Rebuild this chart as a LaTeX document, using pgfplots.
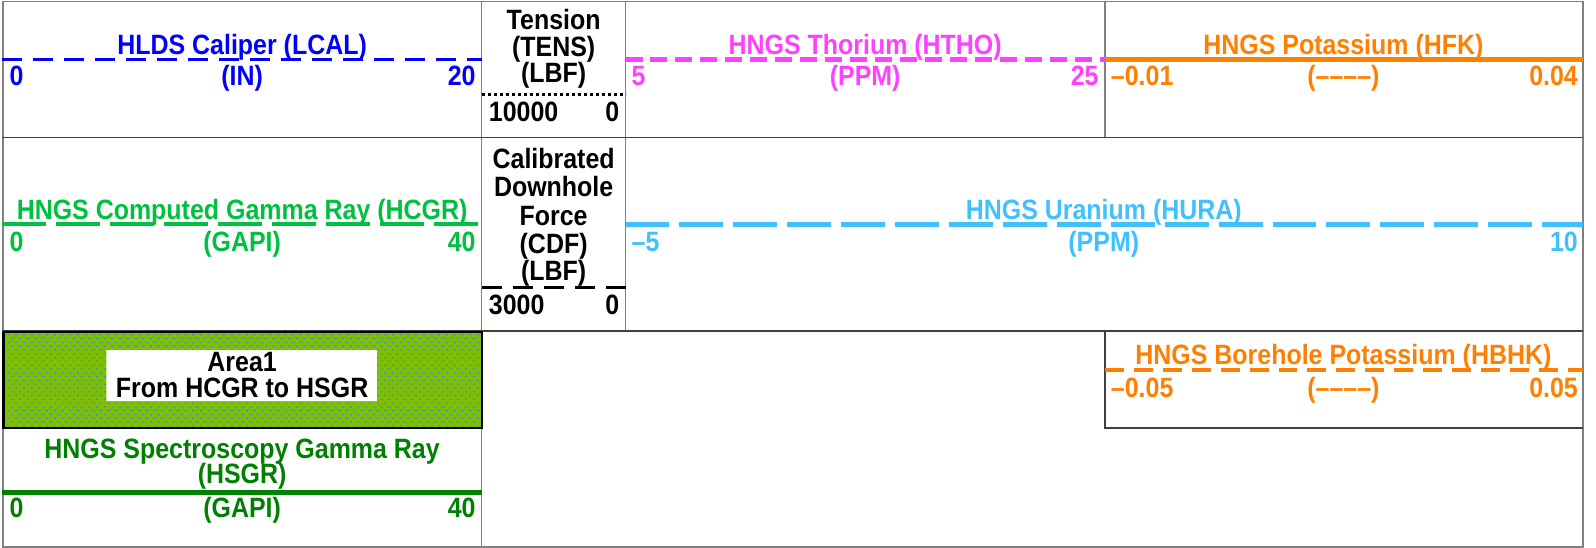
\documentclass[border=0pt]{standalone}
\usepackage{fontspec}
\setmainfont{Liberation Sans}
\usepackage{graphicx}
\usepackage{pgfplots}
\pgfplotsset{compat=1.18}
\usetikzlibrary{patterns}
\definecolor{cblue}{RGB}{0,0,255}
\definecolor{cmag}{RGB}{255,64,255}
\definecolor{corange}{RGB}{255,128,0}
\definecolor{cgreen}{RGB}{0,192,64}
\definecolor{clblue}{RGB}{64,192,255}
\definecolor{cdgreen}{RGB}{0,128,0}
\definecolor{cfill}{RGB}{128,190,0}
\definecolor{cdot}{RGB}{40,150,230}
\definecolor{cframe}{RGB}{128,128,128}
\definecolor{crow}{RGB}{64,64,64}
\pgfdeclarepatternformonly{mydots}{\pgfpoint{-1pt}{-1pt}}{\pgfpoint{9pt}{9pt}}{\pgfpoint{7.7pt}{7.6pt}}{%
  \pgfpathrectangle{\pgfpoint{0pt}{0pt}}{\pgfpoint{2pt}{1.2pt}}%
  \pgfpathrectangle{\pgfpoint{3.85pt}{3.8pt}}{\pgfpoint{2pt}{1.2pt}}%
  \pgfusepath{fill}}
\newcommand{\lf}{\fontsize{25}{27}\selectfont\bfseries}
\newcommand{\T}[1]{\scalebox{1}[1.12]{#1}}
\tikzset{L/.style={font=\lf, inner sep=0pt}}
\begin{document}
\begin{tikzpicture}
\begin{axis}[width=1596pt, height=548pt, scale only axis,
  xmin=0, xmax=1596, ymin=0, ymax=548, y dir=reverse,
  hide axis, clip=false]
% background
\addplot[fill=white, draw=none] coordinates {(0,0) (1596,0) (1596,548) (0,548) (0,0)};
% area fill
\addplot[fill=cfill, draw=none] coordinates {(0,332) (480,332) (480,428) (0,428) (0,332)};
\addplot[pattern=mydots, pattern color=cdot, draw=none] coordinates {(0,332) (480,332) (480,428) (0,428) (0,332)};
\addplot[fill=white, draw=none] coordinates {(104,350) (375,350) (375,401) (104,401) (104,350)};
% frames
\addplot[cframe, line width=1.5pt] coordinates {(0.75,0.75) (1583,0.75) (1583,547) (0.75,547) (0.75,0.75)};
\addplot[cframe, line width=1.5pt] coordinates {(480,0) (480,547)};
\addplot[cframe, line width=1.5pt] coordinates {(624,0) (624,331)};
\addplot[cframe, line width=1.5pt] coordinates {(1104,0) (1104,137)};
\addplot[crow, line width=1.5pt] coordinates {(0,137) (1583,137)};
\addplot[crow, line width=1.5pt] coordinates {(0,331) (1583,331)};
\addplot[crow, line width=1.5pt] coordinates {(1104,332) (1104,428) (1583,428)};
\addplot[black, line width=2.5pt] coordinates {(1,332) (480,332) (480,428) (1,428) (1,332)};
% curve header lines
\addplot[cblue, line width=3pt, dash pattern=on 20pt off 11pt] coordinates {(0,59) (480,59)};
\addplot[black, line width=2.5pt, dash pattern=on 3pt off 3pt] coordinates {(480,94) (624,94)};
\addplot[cmag, line width=5pt, dash pattern=on 17pt off 8pt] coordinates {(624,59) (1104,59)};
\addplot[corange, line width=5pt] coordinates {(1104,59) (1583,59)};
\addplot[cgreen, line width=4pt, dash pattern=on 44pt off 10pt] coordinates {(0,224) (480,224)};
\addplot[black, line width=2.5pt, dash pattern=on 20pt off 11pt] coordinates {(480,287) (624,287)};
\addplot[clblue, line width=5pt, dash pattern=on 44pt off 10pt] coordinates {(624,224) (1583,224)};
\addplot[cdgreen, line width=5pt] coordinates {(0,493) (480,493)};
\addplot[corange, line width=4pt, dash pattern=on 19pt off 10pt] coordinates {(1104,370) (1583,370)};
% texts row 1
\node[L, anchor=base, text=cblue] at (axis cs:240,54) {\T{HLDS Caliper (LCAL)}};
\node[L, anchor=base west, text=cblue] at (axis cs:7,85) {\T{0}};
\node[L, anchor=base, text=cblue] at (axis cs:240,85) {\T{(IN)}};
\node[L, anchor=base east, text=cblue] at (axis cs:474,85) {\T{20}};
\node[L, anchor=base] at (axis cs:552,29) {\T{Tension}};
\node[L, anchor=base] at (axis cs:552,56) {\T{(TENS)}};
\node[L, anchor=base] at (axis cs:552,82) {\T{(LBF)}};
\node[L, anchor=base west] at (axis cs:487,121) {\T{10000}};
\node[L, anchor=base east] at (axis cs:618,121) {\T{0}};
\node[L, anchor=base, text=cmag] at (axis cs:864,54) {\T{HNGS Thorium (HTHO)}};
\node[L, anchor=base west, text=cmag] at (axis cs:630,85) {\T{5}};
\node[L, anchor=base, text=cmag] at (axis cs:864,85) {\T{(PPM)}};
\node[L, anchor=base east, text=cmag] at (axis cs:1098,85) {\T{25}};
\node[L, anchor=base, text=corange] at (axis cs:1343,54) {\T{HNGS Potassium (HFK)}};
\node[L, anchor=base west, text=corange] at (axis cs:1110,85) {\T{–0.01}};
\node[L, anchor=base, text=corange] at (axis cs:1343,85) {\T{(––––)}};
\node[L, anchor=base east, text=corange] at (axis cs:1578,85) {\T{0.04}};
% row 2
\node[L, anchor=base, text=cgreen] at (axis cs:240,219) {\T{HNGS Computed Gamma Ray (HCGR)}};
\node[L, anchor=base west, text=cgreen] at (axis cs:7,251) {\T{0}};
\node[L, anchor=base, text=cgreen] at (axis cs:240,251) {\T{(GAPI)}};
\node[L, anchor=base east, text=cgreen] at (axis cs:474,251) {\T{40}};
\node[L, anchor=base] at (axis cs:552,168) {\T{Calibrated}};
\node[L, anchor=base] at (axis cs:552,196) {\T{Downhole}};
\node[L, anchor=base] at (axis cs:552,225) {\T{Force}};
\node[L, anchor=base] at (axis cs:552,253) {\T{(CDF)}};
\node[L, anchor=base] at (axis cs:552,280) {\T{(LBF)}};
\node[L, anchor=base west] at (axis cs:487,314) {\T{3000}};
\node[L, anchor=base east] at (axis cs:618,314) {\T{0}};
\node[L, anchor=base, text=clblue] at (axis cs:1103,219) {\T{HNGS Uranium (HURA)}};
\node[L, anchor=base west, text=clblue] at (axis cs:630,251) {\T{–5}};
\node[L, anchor=base, text=clblue] at (axis cs:1103,251) {\T{(PPM)}};
\node[L, anchor=base east, text=clblue] at (axis cs:1578,251) {\T{10}};
% row 3
\node[L, anchor=base] at (axis cs:240,371) {\T{Area1}};
\node[L, anchor=base] at (axis cs:240,397) {\T{From HCGR to HSGR}};
\node[L, anchor=base, text=cdgreen] at (axis cs:240,458) {\T{HNGS Spectroscopy Gamma Ray}};
\node[L, anchor=base, text=cdgreen] at (axis cs:240,484) {\T{(HSGR)}};
\node[L, anchor=base west, text=cdgreen] at (axis cs:7,518) {\T{0}};
\node[L, anchor=base, text=cdgreen] at (axis cs:240,518) {\T{(GAPI)}};
\node[L, anchor=base east, text=cdgreen] at (axis cs:474,518) {\T{40}};
\node[L, anchor=base, text=corange] at (axis cs:1343,364) {\T{HNGS Borehole Potassium (HBHK)}};
\node[L, anchor=base west, text=corange] at (axis cs:1110,397) {\T{–0.05}};
\node[L, anchor=base, text=corange] at (axis cs:1343,397) {\T{(––––)}};
\node[L, anchor=base east, text=corange] at (axis cs:1578,397) {\T{0.05}};
\end{axis}
\end{tikzpicture}
\end{document}
